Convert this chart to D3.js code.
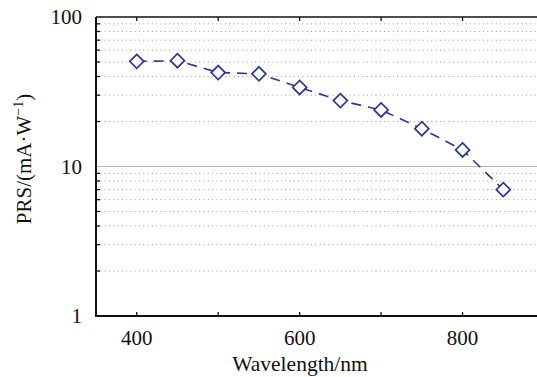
<!DOCTYPE html>
<html>
<head>
<meta charset="utf-8">
<script src="https://cdn.jsdelivr.net/npm/d3@7"></script>
<style>
body { margin: 0; background: #fff; }
text { font-family: "Liberation Serif", "Times New Roman", serif; fill: #111; }
</style>
</head>
<body>
<svg id="chart" width="537" height="377"></svg>
<script>
// data
var wavelength = [400, 450, 500, 550, 600, 650, 700, 750, 800, 850];
var prs = [50.5, 51, 42.5, 41.7, 33.8, 27.6, 23.9, 17.9, 12.9, 7.0];
var xTicks = [400, 600, 800];
var xMinorTicks = [500, 700];
var yTicks = [1, 10, 100];

var svg = d3.select("#chart");
var pLeft = 96, pTop = 17, pBottom = 316, pRight = 544;
var blue = "#2b3896";

var xScale = d3.scaleLinear().domain([350, 900]).range([pLeft, pRight]);
var yScale = d3.scaleLog().domain([1, 100]).range([pBottom, pTop]);

// minor values for grid
var minor = [];
[1, 10].forEach(function(d) {
  for (var k = 2; k <= 9; k++) minor.push(d * k);
});

// dotted minor grid
svg.append("g").selectAll("line").data(minor).enter().append("line")
  .attr("x1", pLeft).attr("x2", 537)
  .attr("y1", function(d) { return yScale(d); })
  .attr("y2", function(d) { return yScale(d); })
  .style("stroke", "#9a9a9a")
  .style("stroke-width", 1)
  .style("stroke-dasharray", "1,3.3");

// solid major grid at 10
svg.append("line")
  .attr("x1", pLeft).attr("x2", 537)
  .attr("y1", yScale(10)).attr("y2", yScale(10))
  .style("stroke", "#b5b5b5").style("stroke-width", 1.2);

// top axis line
svg.append("line")
  .attr("x1", pLeft).attr("x2", 537)
  .attr("y1", pTop).attr("y2", pTop)
  .style("stroke", "#111").style("stroke-width", 1.5);

// left axis: minor ticks pointing inward
svg.append("g").selectAll("line").data(minor).enter().append("line")
  .attr("x1", pLeft).attr("x2", pLeft + 4)
  .attr("y1", function(d) { return yScale(d); })
  .attr("y2", function(d) { return yScale(d); })
  .style("stroke", "#111").style("stroke-width", 1.3);

svg.append("line")
  .attr("x1", pLeft).attr("x2", pLeft)
  .attr("y1", pTop).attr("y2", pBottom)
  .style("stroke", "#111").style("stroke-width", 2);

svg.append("line")
  .attr("x1", pLeft - 1).attr("x2", 537)
  .attr("y1", pBottom).attr("y2", pBottom)
  .style("stroke", "#111").style("stroke-width", 2);

// x ticks (inward) bottom and top
var allX = xTicks.concat(xMinorTicks);
svg.append("g").selectAll("line").data(allX).enter().append("line")
  .attr("x1", function(d) { return xScale(d); })
  .attr("x2", function(d) { return xScale(d); })
  .attr("y1", pBottom).attr("y2", pBottom - 4)
  .style("stroke", "#111").style("stroke-width", 1.3);
svg.append("g").selectAll("line").data(allX).enter().append("line")
  .attr("x1", function(d) { return xScale(d); })
  .attr("x2", function(d) { return xScale(d); })
  .attr("y1", pTop).attr("y2", pTop + 4)
  .style("stroke", "#111").style("stroke-width", 1.3);

// tick labels
svg.append("g").selectAll("text").data(xTicks).enter().append("text")
  .attr("x", function(d) { return xScale(d); })
  .attr("y", 345)
  .style("font-size", "21px")
  .style("text-anchor", "middle")
  .text(function(d) { return d; });

svg.append("g").selectAll("text").data(yTicks).enter().append("text")
  .attr("x", 82)
  .attr("y", function(d) { return yScale(d) + 7; })
  .style("font-size", "21px")
  .style("text-anchor", "end")
  .text(function(d) { return d; });

// axis labels
svg.append("text")
  .attr("x", 300).attr("y", 371)
  .style("font-size", "21.5px")
  .style("text-anchor", "middle")
  .text("Wavelength/nm");

var yLab = svg.append("text")
  .attr("transform", "translate(31,159) rotate(-90)")
  .style("font-size", "21px")
  .style("text-anchor", "middle");
yLab.append("tspan").text("PRS/(mA\u00b7W");
yLab.append("tspan").attr("dy", -8).style("font-size", "14px").text("\u22121");
yLab.append("tspan").attr("dy", 8).text(")");

// dashed line
var line = d3.line()
  .x(function(d, i) { return xScale(wavelength[i]); })
  .y(function(d) { return yScale(d); });

svg.append("path")
  .datum(prs)
  .attr("d", line)
  .style("fill", "none")
  .style("stroke", blue)
  .style("stroke-width", 1.6)
  .style("stroke-dasharray", "10,7");

// diamond markers
svg.selectAll(".dot").data(prs).enter().append("path")
  .attr("class", "dot")
  .attr("transform", function(d, i) {
    return "translate(" + xScale(wavelength[i]) + "," + yScale(d) + ")";
  })
  .attr("d", "M0,-7L7,0L0,7L-7,0Z")
  .style("fill", "#fff")
  .style("stroke", blue)
  .style("stroke-width", 1.7);
</script>
</body>
</html>
